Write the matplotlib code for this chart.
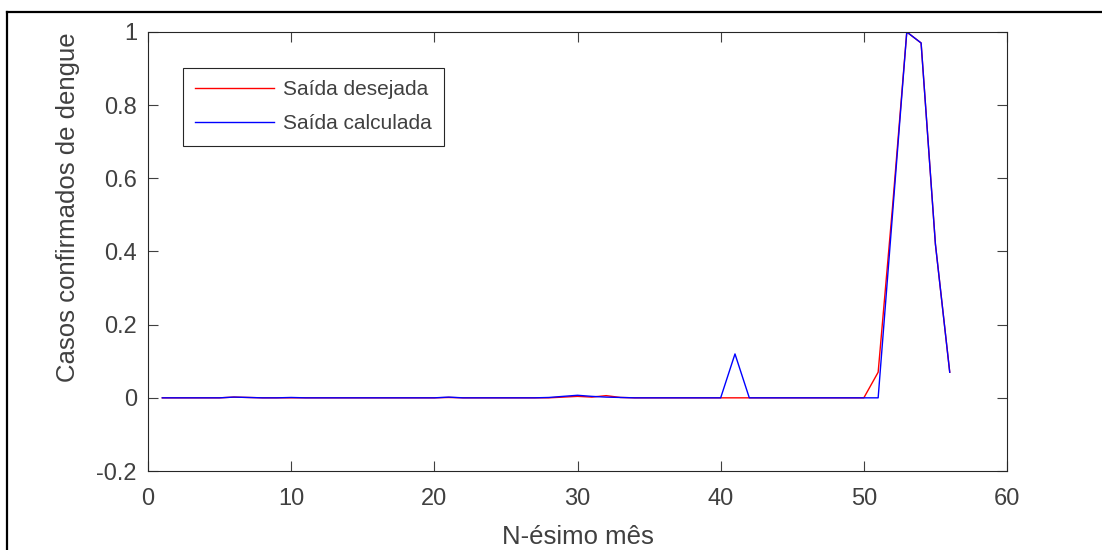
import numpy as np
import matplotlib
matplotlib.use('Agg')
import matplotlib.pyplot as plt
from matplotlib.lines import Line2D

plt.rcParams['font.family'] = ['Liberation Sans', 'DejaVu Sans']

# month index and network outputs (normalised dengue cases)
meses = np.arange(1, 57)
desejada = [0, 0, 0, 0, 0, 0.002, 0.001, 0, 0, 0,
            0, 0, 0, 0, 0, 0, 0, 0, 0, 0,
            0.001, 0, 0, 0, 0, 0, 0, 0, 0.002, 0.004,
            0.002, 0.006, 0.001, 0, 0, 0, 0, 0, 0, 0,
            0, 0, 0, 0, 0, 0, 0, 0, 0, 0,
            0.07, 0.52, 1.0, 0.97, 0.42, 0.07]
calculada = [0, 0, 0, 0, 0, 0.002, 0.001, 0, 0, 0.001,
             0, 0, 0, 0, 0, 0, 0, 0, 0, 0,
             0.002, 0, 0, 0, 0, 0, 0, 0.001, 0.004, 0.007,
             0.004, 0.002, 0.001, 0, 0, 0, 0, 0, 0, 0,
             0.12, 0, 0, 0, 0, 0, 0, 0, 0, 0,
             0, 0.5, 1.0, 0.97, 0.42, 0.07]

xticks = [0, 10, 20, 30, 40, 50, 60]
yticks = [-0.2, 0, 0.2, 0.4, 0.6, 0.8, 1]
ytick_labels = ['-0.2', '0', '0.2', '0.4', '0.6', '0.8', '1']

fig = plt.figure(figsize=(11.02, 5.5), dpi=100)
ax = fig.add_axes([148/1102, 1 - 471/550, (1007-148)/1102, (471-32)/550])

ax.plot(meses, desejada, color='#ff0000', linewidth=1.0, label='Saída desejada')
ax.plot(meses, calculada, color='#0000ff', linewidth=1.0, label='Saída calculada')

ax.set_xlim(0, 60)
ax.set_ylim(-0.2, 1)
ax.set_xticks(xticks)
ax.set_yticks(yticks)
ax.set_yticklabels(ytick_labels)
ax.tick_params(direction='in', top=True, right=True, labelsize=17,
               colors='#404040', length=7, width=0.8)
ax.tick_params(axis='x', pad=12)
ax.tick_params(axis='y', pad=8)
for s in ax.spines.values():
    s.set_color('#262626')
    s.set_linewidth(0.8)

ax.set_xlabel('N-ésimo mês', fontsize=18.5, color='#404040', va='center')
ax.xaxis.set_label_coords(0.5, -0.150)
ax.set_ylabel('Casos confirmados de dengue', fontsize=18.5, color='#404040', va='center')
ax.yaxis.set_label_coords(-0.093, 0.6)

leg = ax.legend(loc='upper left', bbox_to_anchor=(0.0407, 0.918), borderaxespad=0,
                fontsize=15, handlelength=3.75, handletextpad=0.45, labelspacing=0.7,
                fancybox=False, framealpha=1, edgecolor='#262626', borderpad=0.6)
leg.get_frame().set_linewidth(0.8)
for t in leg.get_texts():
    t.set_color('#404040')

# outer frame of the exported figure
x0 = 7/1102
y0 = 1 - 12/550
fig.add_artist(Line2D([x0, x0], [0, y0], transform=fig.transFigure, color='black', linewidth=1.6))
fig.add_artist(Line2D([x0, 1], [y0, y0], transform=fig.transFigure, color='black', linewidth=1.6))

fig.savefig('out.png', dpi=100)
